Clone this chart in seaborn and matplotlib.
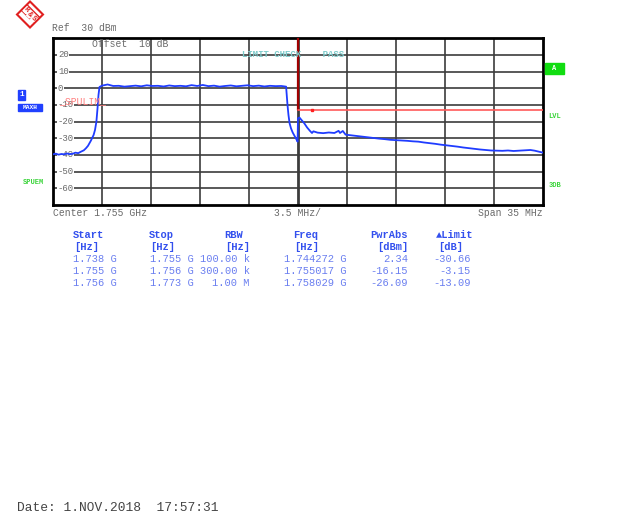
import numpy as np
import pandas as pd
import seaborn as sns
import matplotlib.pyplot as plt
from matplotlib.patches import Polygon, Rectangle

# trace (MHz, dBm)
freq_mhz = [1737.50, 1737.70, 1737.90, 1738.10, 1738.30, 1738.50, 1738.70, 1738.90,
            1739.10, 1739.30, 1739.50, 1739.70, 1739.85, 1740.00, 1740.20, 1740.40,
            1740.50, 1740.60, 1740.68, 1740.75, 1740.82, 1741.00, 1741.40, 1741.80,
            1742.20, 1742.60, 1743.00, 1743.40, 1743.80, 1744.20, 1744.60, 1745.00,
            1745.40, 1745.80, 1746.20, 1746.60, 1747.00, 1747.40, 1747.80, 1748.20,
            1748.60, 1749.00, 1749.40, 1749.80, 1750.20, 1750.60, 1751.00, 1751.40,
            1751.80, 1752.20, 1752.60, 1753.00, 1753.40, 1753.80, 1754.15, 1754.25,
            1754.32, 1754.40, 1754.50, 1754.62, 1754.75, 1754.88, 1754.97, 1755.00,
            1755.10, 1755.25, 1755.45, 1755.65, 1755.85, 1756.00, 1756.10, 1756.40,
            1756.80, 1757.20, 1757.60, 1757.90, 1758.00, 1758.20, 1758.40, 1758.80,
            1759.20, 1759.60, 1760.00, 1760.40, 1760.80, 1761.20, 1761.60, 1762.00,
            1762.40, 1762.80, 1763.20, 1763.60, 1764.00, 1764.40, 1764.80, 1765.20,
            1765.60, 1766.00, 1766.40, 1766.80, 1767.20, 1767.60, 1768.00, 1768.40,
            1768.80, 1769.20, 1769.60, 1770.00, 1770.40, 1770.80, 1771.20, 1771.60,
            1771.90, 1772.20, 1772.50]
level_dbm = [-39.6, -39.2, -39.8, -39.4, -39.6, -39.1, -39.5, -39.3,
             -38.6, -38.9, -38.0, -37.2, -36.0, -34.5, -31.5, -28.0,
             -25.0, -20.0, -12.0, -4.0, 0.8, 1.6, 2.3, 1.4,
             1.5, 1.0, 1.3, 1.6, 1.2, 1.8, 1.4, 1.5,
             1.1, 1.7, 1.3, 1.5, 1.2, 1.9, 1.4, 2.0,
             1.3, 1.6, 1.0, 1.4, 1.7, 1.2, 1.5, 1.8,
             1.3, 1.6, 1.1, 1.5, 1.3, 1.4, 1.0, -10.0,
             -16.0, -21.0, -24.0, -26.5, -28.5, -30.5, -32.0, -18.0,
             -17.5, -19.0, -21.0, -23.5, -25.5, -26.8, -25.8, -26.6,
             -26.9, -26.5, -26.8, -25.5, -26.8, -25.6, -27.8, -28.2,
             -28.6, -29.0, -29.4, -29.8, -30.2, -30.5, -30.9, -31.1,
             -31.3, -31.5, -31.8, -32.0, -32.5, -32.9, -33.3, -33.8,
             -34.2, -34.6, -35.0, -35.5, -35.9, -36.3, -36.7, -37.0,
             -37.3, -37.4, -37.5, -37.3, -37.6, -37.4, -37.2, -37.0,
             -37.4, -38.0, -38.6]

# spurious emission limit line
limit_f = [1755.0, 1755.0, 1772.5]
limit_db = [30.0, -13.0, -13.0]

yticks = [20, 10, 0, -10, -20, -30, -40, -50, -60]

# result table
starts = ["1.738 G", "1.755 G", "1.756 G"]
stops = ["1.755 G", "1.756 G", "1.773 G"]
rbws = ["100.00 k", "300.00 k", "1.00 M"]
freqs = ["1.744272 G", "1.755017 G", "1.758029 G"]
pwr_abs = ["2.34", "-16.15", "-26.09"]
limits = ["-30.66", "-3.15", "-13.09"]

sns.set_style("white")
plt.rcParams["font.family"] = ["Liberation Mono", "DejaVu Sans Mono"]

W, H = 637, 515
fig = plt.figure(figsize=(W / 100, H / 100), dpi=100)
ax = fig.add_axes([53 / W, 1 - 205 / H, 490 / W, 166.7 / H])

f0, f1 = 1737.5, 1772.5
ax.set_xlim(f0, f1)
ax.set_ylim(-70, 30)

grid_c = "#3c3c3c"
for k in range(1, 10):
    ax.axvline(f0 + 3.5 * k, color=grid_c, lw=2.0 if k == 5 else 1.2, zorder=1)
for v in range(-60, 30, 10):
    ax.axhline(v, color=grid_c, lw=1.2, zorder=1)

df = pd.DataFrame({"f": freq_mhz, "p": level_dbm})
sns.lineplot(data=df, x="f", y="p", ax=ax, color="#1f3cff", lw=1.3,
             sort=False, estimator=None, zorder=4)

ax.plot(limit_f[:2], limit_db[:2], color="#a00000", lw=1.6, zorder=3)
ax.plot(limit_f[1:], limit_db[1:], color="#ff5a5a", lw=1.2, zorder=3)
ax.plot([1756.0], [-13.0], marker="s", ms=1.8, color="#ff2020", zorder=3)

for s in ax.spines.values():
    s.set_color("black")
    s.set_linewidth(2)
ax.set_xticks([])
ax.set_yticks([])
ax.set_xlabel("")
ax.set_ylabel("")

grey = "#6a6a6a"
for v in yticks:
    ax.text(f0 + 0.35, v, str(v), fontsize=6.5, color=grey, va="center", ha="left",
            bbox=dict(facecolor="white", edgecolor="none", pad=0.3), zorder=2)

ax.text(1740.3, 26.8, "Offset  10 dB", fontsize=7, color=grey, va="center", zorder=5)
ax.text(1737.9, -7.6, "_SPULIM_", fontsize=7, color="#ff8080", va="center", zorder=5)
ax.text(1751.0, 20.0, "LIMIT CHECK    PASS", fontsize=6.5, color="#7ccaca",
        va="center", fontweight="bold", zorder=5)

# texts outside the grid, placed in figure pixels
def ftext(x, y, s, **kw):
    fig.text(x / W, 1 - y / H, s, **kw)

ftext(52, 28, "Ref  30 dBm", fontsize=7, color=grey, va="center")
ftext(53, 213, "Center 1.755 GHz", fontsize=7, color=grey, va="center")
ftext(298, 213, "3.5 MHz/", fontsize=7, color=grey, va="center", ha="center")
ftext(543, 213, "Span 35 MHz", fontsize=7, color=grey, va="center", ha="right")
ftext(17, 508, "Date: 1.NOV.2018  17:57:31", fontsize=9.3, color="#444444", va="center")

# side labels
green = "#3ad43a"
fig.patches.append(Rectangle((18 / W, 1 - 100 / H), 7 / W, 10 / H,
                             transform=fig.transFigure, color="#2040ff"))
ftext(21.5, 95, "1", fontsize=5.5, color="white", ha="center", va="center",
      fontweight="bold")
fig.patches.append(Rectangle((18 / W, 1 - 111 / H), 24 / W, 7 / H,
                             transform=fig.transFigure, color="#2040ff"))
ftext(30, 107.5, "MAXH", fontsize=4.5, color="white", ha="center", va="center",
      fontweight="bold")
ftext(33, 183, "SPUEM", fontsize=5, color=green, ha="center", va="center",
      fontweight="bold")
fig.patches.append(Rectangle((545 / W, 1 - 74 / H), 19 / W, 11 / H,
                             transform=fig.transFigure, color="#11dd11"))
ftext(554.5, 68.5, "A", fontsize=5, color="white", ha="center", va="center",
      fontweight="bold")
ftext(555, 116, "LVL", fontsize=5, color=green, ha="center", va="center",
      fontweight="bold")
ftext(555, 186, "3DB", fontsize=5, color=green, ha="center", va="center",
      fontweight="bold")

# R&S logo
cx, cy, r = 30, 14.5, 13
pts = [(cx / W, 1 - (cy - r) / H), ((cx + r) / W, 1 - cy / H),
       (cx / W, 1 - (cy + r) / H), ((cx - r) / W, 1 - cy / H)]
fig.patches.append(Polygon(pts, closed=True, transform=fig.transFigure,
                           facecolor="white", edgecolor="#e02020", hatch="\\\\\\",
                           lw=1.5))
for dx, dy, ch in [(-3.5, -4.5, "R"), (0, 0, "&"), (3.5, 4.5, "S")]:
    ftext(cx + dx, cy + dy, ch, fontsize=5.5, color="#e02020", ha="center",
          va="center", fontweight="bold", rotation=-45,
          bbox=dict(facecolor="white", edgecolor="none", pad=0.1))

# result table
blue = "#3350ee"
lt_blue = "#6a7ef0"
head_y, unit_y, row_y = 235, 247.5, [258.5, 271, 283]
ftext(73, head_y, "Start", fontsize=7.5, color=blue, fontweight="bold", va="center")
ftext(149, head_y, "Stop", fontsize=7.5, color=blue, fontweight="bold", va="center")
ftext(224, head_y, "RBW", fontsize=7.5, color=blue, fontweight="bold", va="center")
ftext(293, head_y, "Freq", fontsize=7.5, color=blue, fontweight="bold", va="center")
ftext(408, head_y, "PwrAbs", fontsize=7.5, color=blue, fontweight="bold", va="center",
      ha="right")
ftext(473, head_y, "\u25B2Limit", fontsize=7.5, color=blue, fontweight="bold",
      va="center", ha="right")
for x, u, ha in [(74, "[Hz]", "left"), (150, "[Hz]", "left"), (225, "[Hz]", "left"),
                 (294, "[Hz]", "left"), (408, "[dBm]", "right"), (463, "[dB]", "right")]:
    ftext(x, unit_y, u, fontsize=7.5, color=blue, fontweight="bold", va="center", ha=ha)

for i, y in enumerate(row_y):
    ftext(73, y, starts[i], fontsize=7.5, color=lt_blue, va="center")
    ftext(150, y, stops[i], fontsize=7.5, color=lt_blue, va="center")
    ftext(250, y, rbws[i], fontsize=7.5, color=lt_blue, va="center", ha="right")
    ftext(347, y, freqs[i], fontsize=7.5, color=lt_blue, va="center", ha="right")
    ftext(408, y, pwr_abs[i], fontsize=7.5, color=lt_blue, va="center", ha="right")
    ftext(471, y, limits[i], fontsize=7.5, color=lt_blue, va="center", ha="right")

fig.savefig("out.png", dpi=100)
